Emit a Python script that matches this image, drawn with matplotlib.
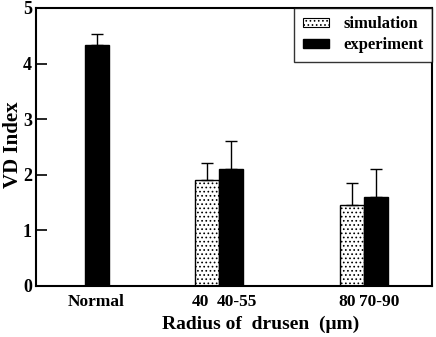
import matplotlib
matplotlib.use("Agg")
import matplotlib.pyplot as plt
from matplotlib.patches import Patch

plt.rcParams['font.family'] = ['Liberation Serif', 'DejaVu Serif']
plt.rcParams['font.weight'] = 'bold'
plt.rcParams['hatch.linewidth'] = 0.7

# data (x positions are on an arbitrary axis scale matching the layout)
sim_x = [171, 316]
sim_vals = [1.90, 1.46]
sim_err = [0.31, 0.39]

exp_x = [61, 195, 340]
exp_vals = [4.33, 2.10, 1.60]
exp_err = [0.20, 0.50, 0.50]

tick_pos = [60, 164.5, 200.5, 311.5, 343]
tick_labels = ['Normal', '40', '40-55', '80', '70-90']

bar_w = 24

fig = plt.figure(figsize=(4.36, 3.37), dpi=100)
ax = fig.add_axes([36 / 436, 1 - 286 / 337, 396 / 436, 278 / 337])

ax.bar(sim_x, sim_vals, width=bar_w, color='white', edgecolor='black',
       hatch='....', linewidth=1.0, zorder=2)
ax.errorbar(sim_x, sim_vals, yerr=[[0] * len(sim_err), sim_err], fmt='none',
            ecolor='black', elinewidth=1.0, capsize=4, capthick=1.0, zorder=3)

ax.bar(exp_x, exp_vals, width=bar_w, color='black', edgecolor='black',
       linewidth=1.0, zorder=2)
ax.errorbar(exp_x, exp_vals, yerr=[[0] * len(exp_err), exp_err], fmt='none',
            ecolor='black', elinewidth=1.0, capsize=4, capthick=1.0, zorder=3)

ax.set_xlim(0, 396)
ax.set_ylim(0, 5)
ax.set_yticks([0, 1, 2, 3, 4, 5])
ax.tick_params(axis='y', direction='in', length=8, width=1.2, labelsize=13, pad=3)
ax.set_xticks(tick_pos)
ax.set_xticklabels(tick_labels, fontsize=12.5, fontweight='bold')
ax.tick_params(axis='x', length=0, pad=6)
for lab in ax.get_yticklabels():
    lab.set_fontweight('bold')
for sp in ax.spines.values():
    sp.set_linewidth(1.5)

ax.set_ylabel('VD Index', fontsize=15, fontweight='bold')
ax.yaxis.set_label_coords(-0.032, 0.507)
ax.set_xlabel('Radius of  drusen  (\u03bcm)', fontsize=14, fontweight='bold')
ax.xaxis.set_label_coords(0.566, -0.106)

handles = [
    Patch(facecolor='white', edgecolor='black', hatch='....', linewidth=0.8, label='simulation'),
    Patch(facecolor='black', edgecolor='black', label='experiment'),
]
leg = ax.legend(handles=handles, loc='upper right', bbox_to_anchor=(1.0, 1.0),
                fontsize=12, frameon=True, fancybox=False, borderaxespad=0,
                handlelength=1.6, handleheight=0.5, labelspacing=0.3,
                borderpad=0.5, handletextpad=0.85)
leg.get_frame().set_edgecolor('black')
leg.get_frame().set_linewidth(1.0)
for t in leg.get_texts():
    t.set_fontweight('bold')

fig.savefig('out.png', dpi=100)
